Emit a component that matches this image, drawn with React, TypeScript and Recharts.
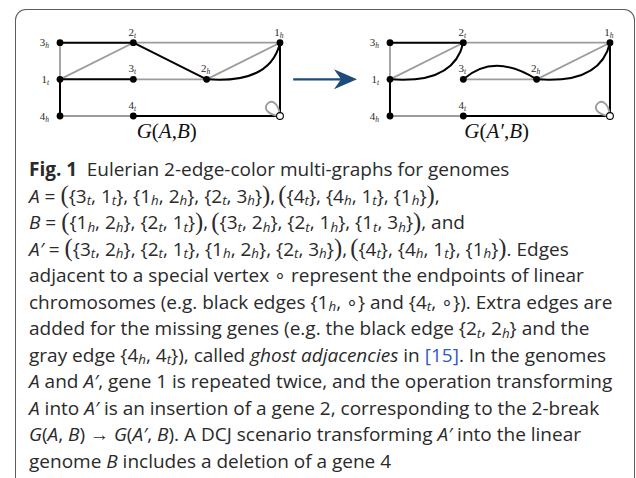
import React from 'react';
import { ScatterChart, Scatter, XAxis, YAxis, ReferenceLine } from 'recharts';

// ---------- data: vertices (gene, extremity, grid column, grid row) ----------
const leftVertices = [
  { id: '3h', gene: '3', end: 'h', col: 0, row: 0 },
  { id: '2t', gene: '2', end: 't', col: 1, row: 0 },
  { id: '1h', gene: '1', end: 'h', col: 3, row: 0 },
  { id: '1t', gene: '1', end: 't', col: 0, row: 1 },
  { id: '3t', gene: '3', end: 't', col: 1, row: 1 },
  { id: '2h', gene: '2', end: 'h', col: 2, row: 1 },
  { id: '4h', gene: '4', end: 'h', col: 0, row: 2 },
  { id: '4t', gene: '4', end: 't', col: 1, row: 2 },
  { id: 'o', gene: '', end: '', col: 3, row: 2 },
];
const rightVertices = [
  { id: '3h', gene: '3', end: 'h', col: 4.5, row: 0 },
  { id: '2t', gene: '2', end: 't', col: 5.5, row: 0 },
  { id: '1h', gene: '1', end: 'h', col: 7.5, row: 0 },
  { id: '1t', gene: '1', end: 't', col: 4.5, row: 1 },
  { id: '3t', gene: '3', end: 't', col: 5.5, row: 1 },
  { id: '2h', gene: '2', end: 'h', col: 6.5, row: 1 },
  { id: '4h', gene: '4', end: 'h', col: 4.5, row: 2 },
  { id: '4t', gene: '4', end: 't', col: 5.5, row: 2 },
  { id: 'o', gene: '', end: '', col: 7.5, row: 2 },
];

// ---------- data: edges [from, to, kind] ----------
const leftBlackEdges = [
  ['3h', '2t', 'line'], ['2t', '2h', 'line'], ['2h', '1h', 'bend'], ['1t', '3t', 'line'],
  ['1t', '4h', 'line'], ['4t', 'o', 'line'], ['1h', 'o', 'line'],
];
const leftGrayEdges = [
  ['3h', '1t', 'line'], ['1t', '2t', 'line'], ['2t', '1h', 'line'], ['3t', '2h', 'line'],
  ['2h', '1h', 'line'], ['4h', '4t', 'line'],
];
const rightBlackEdges = [
  ['3h', '2t', 'line'], ['1t', '2t', 'bend'], ['3t', '2h', 'arc'], ['2h', '1h', 'bend'],
  ['1t', '4h', 'line'], ['4t', 'o', 'line'], ['1h', 'o', 'line'],
];
const rightGrayEdges = [
  ['3h', '1t', 'line'], ['1t', '2t', 'line'], ['2t', '1h', 'line'], ['3t', '2h', 'line'],
  ['2h', '1h', 'line'], ['4h', '4t', 'line'],
];
const arrowSegment = [{ col: 3.18, row: 1 }, { col: 4.05, row: 1 }];

const graphTitles = ['*G*(*A*,*B*)', '*G*(*A′*,*B*)'];

const captionLines = [
  '^Fig. 1^\u2002Eulerian 2-edge-color multi-graphs for genomes',
  '*A* = (({3_t, 1_t}, {1_h, 2_h}, {2_t, 3_h})),\u2009(({4_t}, {4_h, 1_t}, {1_h})),',
  '*B* = (({1_h, 2_h}, {2_t, 1_t})),\u2009(({3_t, 2_h}, {2_t, 1_h}, {1_t, 3_h})), and',
  '*A′* = (({3_t, 2_h}, {2_t, 1_t}, {1_h, 2_h}, {2_t, 3_h})),\u2009(({4_t}, {4_h, 1_t}, {1_h})). Edges',
  'adjacent to a special vertex ∘ represent the endpoints of linear',
  'chromosomes (e.g. black edges {1_h, ∘} and {4_t, ∘}). Extra edges are',
  'added for the missing genes (e.g. the black edge {2_t, 2_h} and the',
  'gray edge {4_h, 4_t}), called *ghost adjacencies* in #[15]#. In the genomes',
  '*A* and *A′*, gene 1 is repeated twice, and the operation transforming',
  '*A* into *A′* is an insertion of a gene 2, corresponding to the 2-break',
  '*G*(*A*, *B*) → *G*(*A′*, *B*). A DCJ scenario transforming *A′* into the linear',
  'genome *B* includes a deletion of a gene 4',
];

// ---------- styling ----------
const BLACK = '#000000';
const GRAY = '#9c9c9c';
const ARROW = '#1d4c7a';
const X_DOMAIN = [-60 / 73.33, (636 - 60) / 73.33];
const Y_DOMAIN = [-42.7 / 36.65, (478 - 42.7) / 36.65];

const edgeShape = (kind: string, color: string, width: number) => (p: any) => {
  const { x1, y1, x2, y2 } = p;
  const dx = x2 - x1;
  const dy = y2 - y1;
  let d = `M${x1},${y1} L${x2},${y2}`;
  if (kind === 'bend') {
    d = `M${x1},${y1} Q${x1 + 0.87 * dx},${y1 + 0.13 * Math.abs(dy)} ${x2},${y2}`;
  } else if (kind === 'arc') {
    d = `M${x1},${y1} Q${x1 + 0.42 * dx},${y1 - 27} ${x2},${y2}`;
  }
  return <path d={d} fill="none" stroke={color} strokeWidth={width} strokeLinecap="round" />;
};

const arrowShape = (p: any) => {
  const { x1, y1, x2, y2 } = p;
  const L = 23;
  const Hh = 10;
  const notch = 7;
  return (
    <g>
      <line x1={x1} y1={y1} x2={x2 - L + notch + 1} y2={y2} stroke={ARROW} strokeWidth={2.4} />
      <path d={`M${x2},${y2} L${x2 - L},${y2 - Hh} L${x2 - L + notch},${y2} L${x2 - L},${y2 + Hh} Z`} fill={ARROW} />
    </g>
  );
};

const Vertex = (props: any) => {
  const { cx, cy, payload } = props;
  if (cx == null || cy == null) return <g />;
  const special = payload.end === '';
  const leftLabel = payload.col % 4.5 === 0;
  return (
    <g>
      {special && (
        <path
          d={`M${cx},${cy} C${cx - 30},${cy - 3} ${cx - 3},${cy - 30} ${cx},${cy}`}
          fill="none"
          stroke={GRAY}
          strokeWidth={1.9}
        />
      )}
      <circle cx={cx} cy={cy} r={3.4} fill={special ? '#fff' : '#000'} stroke="#000" strokeWidth={special ? 1.1 : 0} />
      {!special && (
        <text
          x={leftLabel ? cx - 11 : cx - 1}
          y={leftLabel ? cy + 3.5 : cy - 7}
          textAnchor={leftLabel ? 'end' : 'middle'}
          fontFamily="'Liberation Serif', 'DejaVu Serif', serif"
          fontSize={11}
          fill="#2a2a2a"
        >
          {payload.gene}
          <tspan fontSize={7.5} fontStyle="italic" dy={2}>{payload.end}</tspan>
        </text>
      )}
    </g>
  );
};

const SUB: React.CSSProperties = { fontSize: '0.7em', fontStyle: 'italic', position: 'relative', top: '0.22em' };
const BIG: React.CSSProperties = {
  fontFamily: "'Liberation Serif', serif",
  fontSize: '1.3em',
  lineHeight: 0,
  position: 'relative',
  top: '0.03em',
  fontWeight: 300,
};

function rich(s: string) {
  const parts = s.split(/(\^[^^]+\^|\*[^*]+\*|#[^#]+#|_[th]|\(\(|\)\))/);
  return parts.map((p, i) => {
    if (!p) return null;
    if (p[0] === '^') return <b key={i} style={{ fontWeight: 700 }}>{p.slice(1, -1)}</b>;
    if (p[0] === '*') return <i key={i}>{p.slice(1, -1)}</i>;
    if (p[0] === '#') return <span key={i} style={{ color: '#3157c9' }}>{p.slice(1, -1)}</span>;
    if (p[0] === '_') return <span key={i} style={SUB}>{p[1]}</span>;
    if (p === '((') return <span key={i} style={BIG}>(</span>;
    if (p === '))') return <span key={i} style={BIG}>)</span>;
    return <React.Fragment key={i}>{p}</React.Fragment>;
  });
}

function edgesFor(vertices: any[], edges: any[], color: string, width: number, prefix: string) {
  const byId: Record<string, any> = {};
  vertices.forEach((v) => (byId[v.id] = v));
  return edges.map(([a, b, kind], i) => (
    <ReferenceLine
      key={`${prefix}-${i}`}
      segment={[
        { x: byId[a].col, y: byId[a].row },
        { x: byId[b].col, y: byId[b].row },
      ]}
      ifOverflow="visible"
      shape={edgeShape(kind, color, width)}
    />
  ));
}

export default function App() {
  const titleX = [166.7, 496.7];
  return (
    <div style={{ position: 'absolute', left: 0, top: 0, width: 636, height: 478, overflow: 'hidden', background: '#fff' }}>
      <div
        style={{
          position: 'absolute',
          left: 15,
          top: 9,
          width: 620,
          height: 520,
          border: '1.3px solid #5c5c5c',
          borderBottom: 'none',
          borderRadius: '11px 11px 0 0',
          boxSizing: 'border-box',
        }}
      />
      <div style={{ position: 'absolute', left: 0, top: 0 }}>
        <ScatterChart width={636} height={478} margin={{ top: 0, right: 0, bottom: 0, left: 0 }}>
          <XAxis type="number" dataKey="col" domain={X_DOMAIN} hide allowDataOverflow />
          <YAxis type="number" dataKey="row" domain={Y_DOMAIN} reversed hide allowDataOverflow />
          {edgesFor(leftVertices, leftGrayEdges, GRAY, 1.8, 'lg')}
          {edgesFor(rightVertices, rightGrayEdges, GRAY, 1.8, 'rg')}
          {edgesFor(leftVertices, leftBlackEdges, BLACK, 2, 'lb')}
          {edgesFor(rightVertices, rightBlackEdges, BLACK, 2, 'rb')}
          <ReferenceLine
            segment={[
              { x: arrowSegment[0].col, y: arrowSegment[0].row },
              { x: arrowSegment[1].col, y: arrowSegment[1].row },
            ]}
            ifOverflow="visible"
            shape={arrowShape}
          />
          <Scatter data={[...leftVertices, ...rightVertices]} shape={Vertex} isAnimationActive={false} />
        </ScatterChart>
      </div>
      {graphTitles.map((t, i) => (
        <div
          key={i}
          style={{
            position: 'absolute',
            left: titleX[i],
            top: 121,
            transform: 'translateX(-50%)',
            fontFamily: "'Liberation Serif', serif",
            fontSize: 21,
            lineHeight: '21px',
            color: '#111',
            whiteSpace: 'nowrap',
          }}
        >
          {rich(t)}
        </div>
      ))}
      <div
        style={{
          position: 'absolute',
          left: 29,
          top: 156,
          fontFamily: "'Open Sans', sans-serif",
          fontSize: 19,
          color: '#2a2a2a',
        }}
      >
        {captionLines.map((l, i) => (
          <div key={i} style={{ height: 26.5, lineHeight: '26.5px', whiteSpace: 'nowrap' }}>
            {rich(l)}
          </div>
        ))}
      </div>
    </div>
  );
}
